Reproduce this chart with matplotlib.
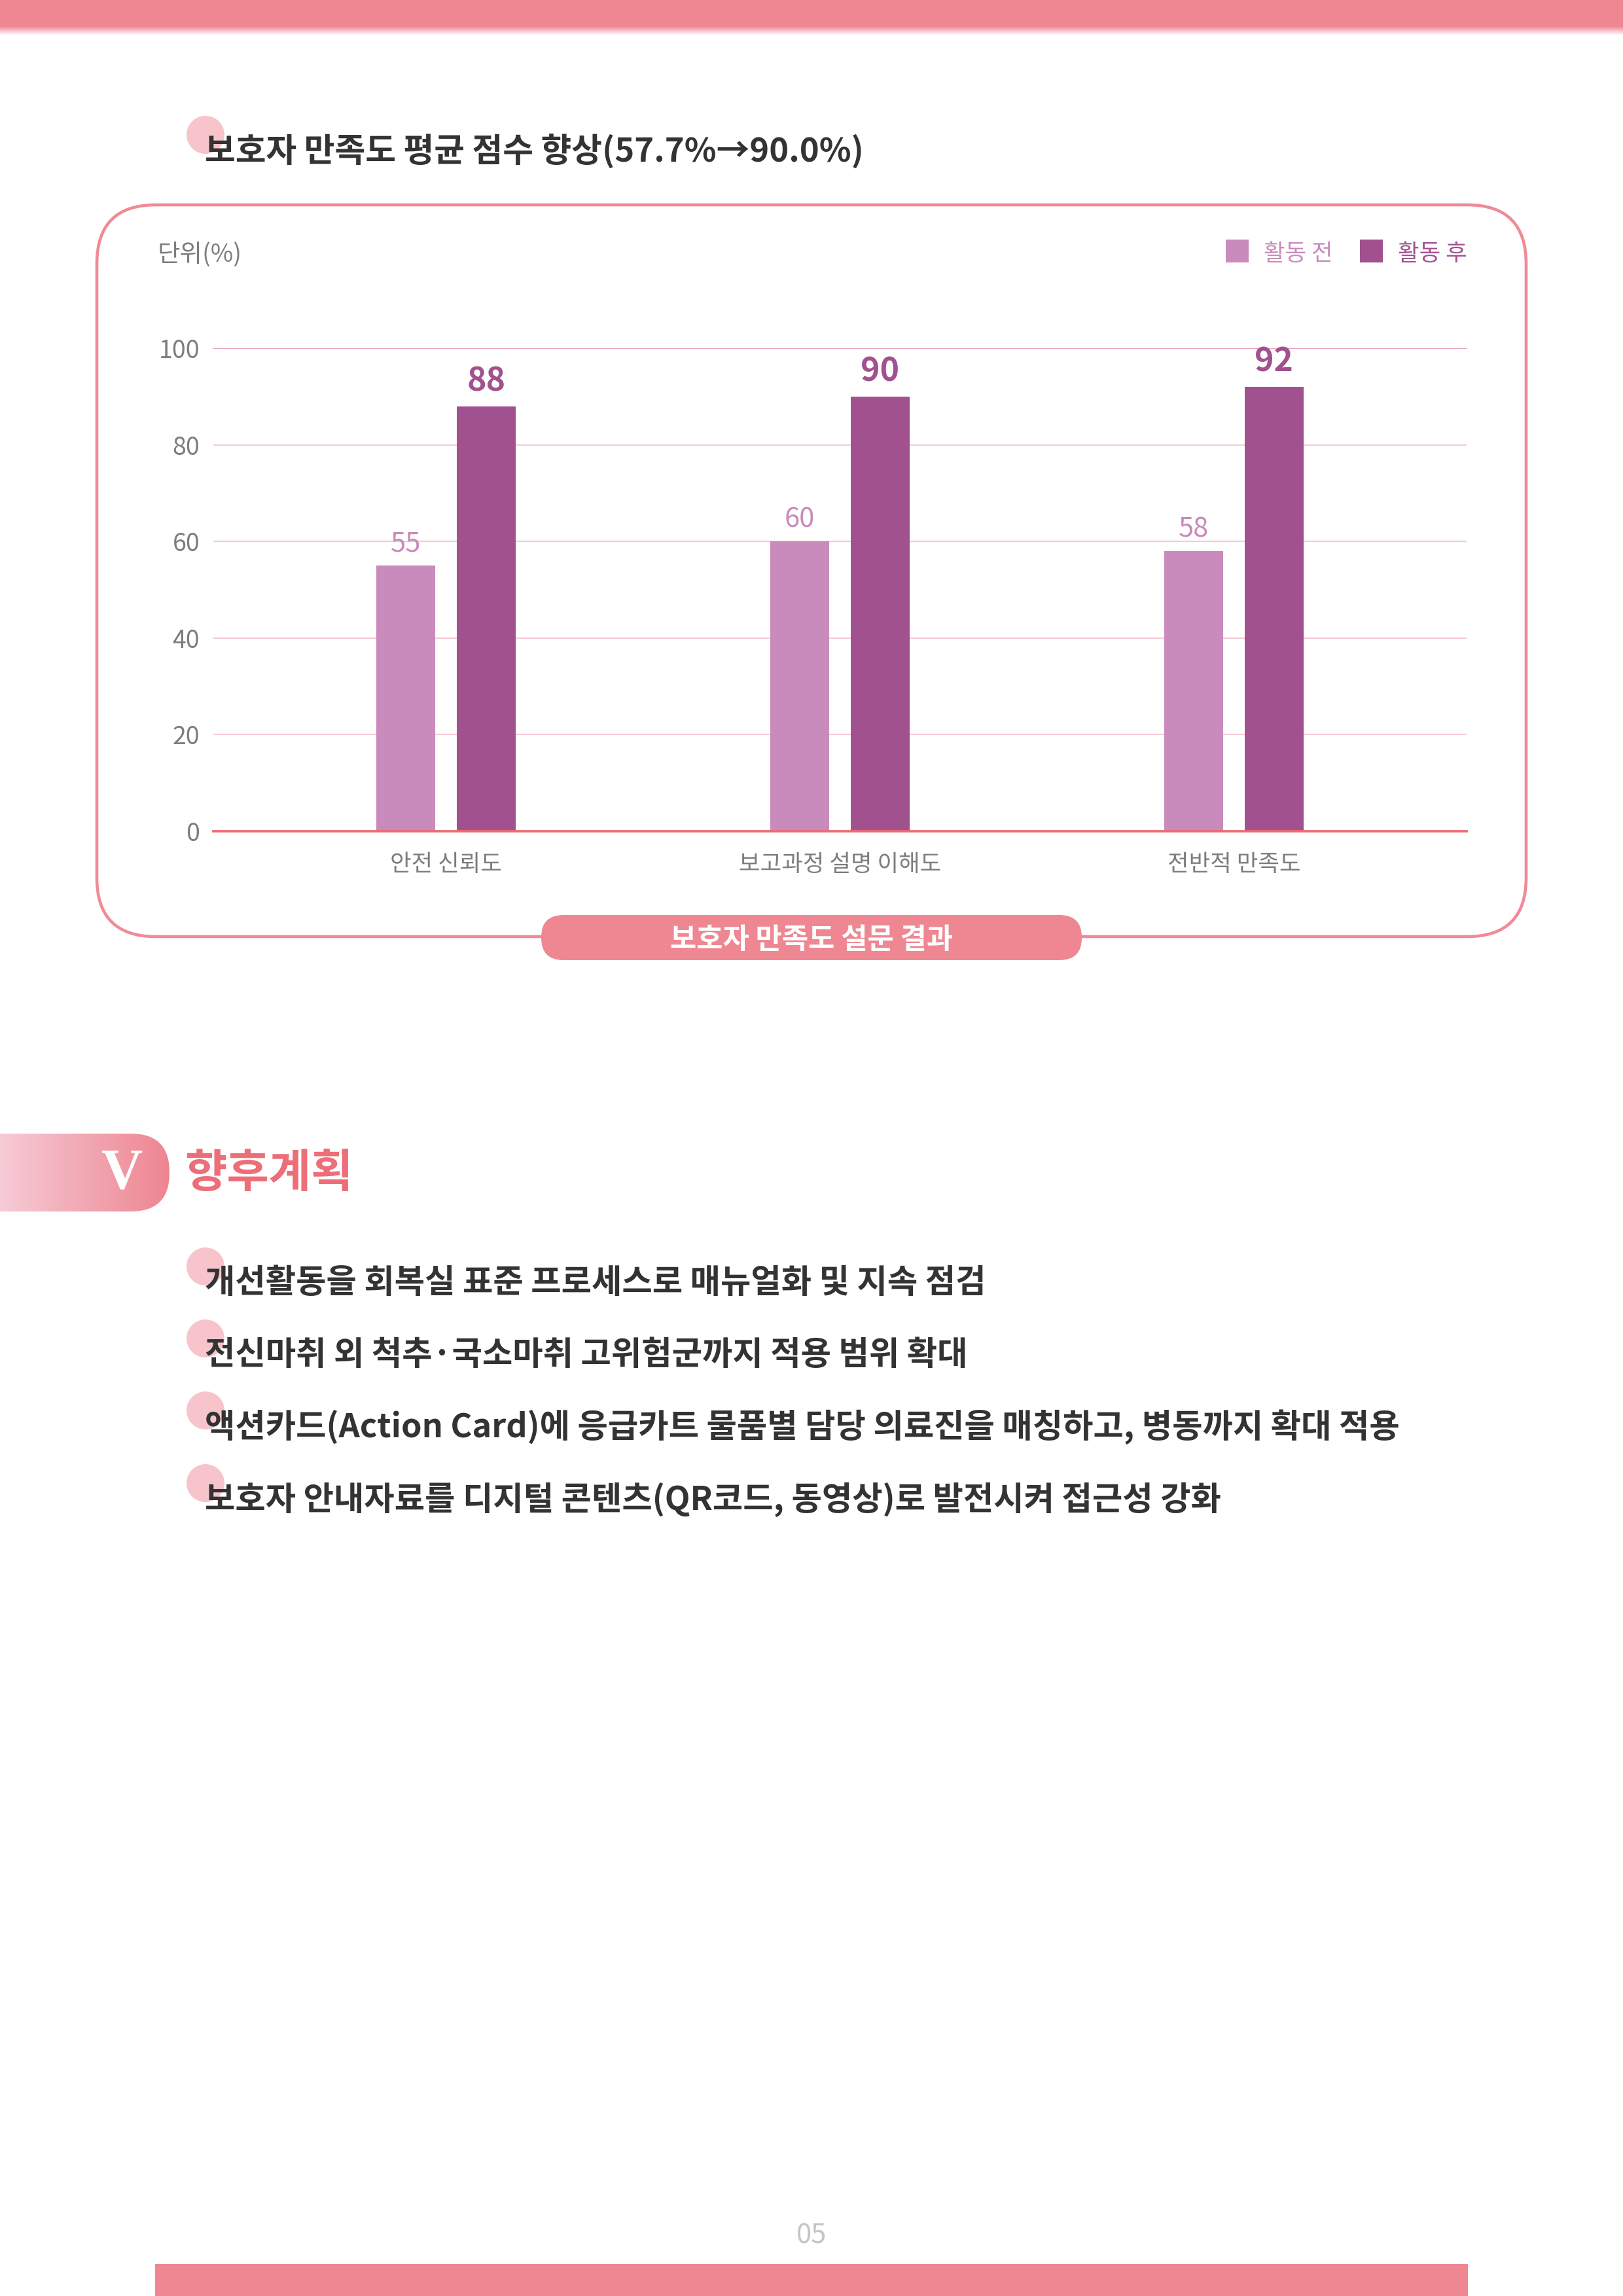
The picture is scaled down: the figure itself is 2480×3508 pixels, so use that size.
import numpy as np
import matplotlib
matplotlib.use("Agg")
import matplotlib.pyplot as plt
from matplotlib.patches import FancyBboxPatch, Rectangle, Circle
from matplotlib.colors import to_rgb

plt.rcParams['font.family'] = ['Noto Sans CJK KR', 'DejaVu Sans']

# ---- data ----
title = "보호자 만족도 평균 점수 향상(57.7%→90.0%)"
unit_label = "단위(%)"
categories = ["안전 신뢰도", "보고과정 설명 이해도", "전반적 만족도"]
before_vals = [55, 60, 58]
after_vals = [88, 90, 92]
series_names = ["활동 전", "활동 후"]
yticks = [0, 20, 40, 60, 80, 100]
chart_caption = "보호자 만족도 설문 결과"
section_num = "V"
section_title = "향후계획"
plan_items = [
    "개선활동을 회복실 표준 프로세스로 매뉴얼화 및 지속 점검",
    "전신마취 외 척추·국소마취 고위험군까지 적용 범위 확대",
    "액션카드(Action Card)에 응급카트 물품별 담당 의료진을 매칭하고, 병동까지 확대 적용",
    "보호자 안내자료를 디지털 콘텐츠(QR코드, 동영상)로 발전시켜 접근성 강화",
]
page_no = "05"

# colours
pink = "#EF8793"
light_pink = "#F7C4CB"
before_color = "#C98BBB"
after_color = "#A2518F"
text_dark = "#333333"
grey = "#7d7d7d"

W, H = 2480, 3508
fig = plt.figure(figsize=(W / 300, H / 300), dpi=300)

# background axes in pixel coordinates
bg = fig.add_axes([0, 0, 1, 1], zorder=0)
bg.set_xlim(0, W)
bg.set_ylim(H, 0)
bg.axis("off")

# top band with soft fade
bg.add_patch(Rectangle((0, 0), W, 40, color=pink, lw=0))
fade = np.zeros((20, 1, 4))
fade[..., :3] = to_rgb(pink)
fade[:, 0, 3] = np.linspace(1, 0, 20)
bg.imshow(fade, extent=(0, W, 54, 40), aspect="auto", interpolation="bilinear")

# title with bullet dot
bg.add_patch(Circle((314, 206), 29, color=light_pink, lw=0, zorder=1))
bg.text(313, 232, title, fontsize=12.2, fontweight="bold", color=text_dark,
        va="center", ha="left", zorder=2)

# chart frame
bg.add_patch(FancyBboxPatch((148, 313), 2184, 1118,
                            boxstyle="round,pad=0,rounding_size=90",
                            fc="none", ec="#F08A96", lw=1.1, zorder=1))
bg.text(241, 389, unit_label, fontsize=9, color=grey, va="center", ha="left")

# legend
leg_x = [1873, 2078]
for i, name in enumerate(series_names):
    c = [before_color, after_color][i]
    bg.add_patch(Rectangle((leg_x[i], 366), 35, 35, color=c, lw=0))
    bg.text(leg_x[i] + 58, 388, name, fontsize=8.5, color=c, va="center", ha="left")

# caption pill
bg.add_patch(FancyBboxPatch((827, 1398), 826, 69,
                            boxstyle="round,pad=0,rounding_size=34",
                            fc=pink, ec="none", zorder=3))
bg.text(1240, 1436, chart_caption, fontsize=10.5, fontweight="bold", color="white",
        va="center", ha="center", zorder=4)

# bar chart
ax = fig.add_axes([326 / W, 1 - 1270 / H, (2241 - 326) / W, (1270 - 532) / H], zorder=2)
ax.patch.set_alpha(0)
x = np.arange(len(categories))
off, bw = 0.102, 0.149
ax.bar(x - off, before_vals, width=bw, color=before_color, zorder=3)
ax.bar(x + off, after_vals, width=bw, color=after_color, zorder=3)
ax.set_xlim(-0.591, 2.591)
ax.set_ylim(0, 100)
for t in yticks[1:]:
    ax.axhline(t, color="#E8A0AE" if t == 100 else "#F7C6D0", lw=0.45, zorder=1)
for s in ["top", "right", "left"]:
    ax.spines[s].set_visible(False)
ax.spines["bottom"].set_color("#EE6B74")
ax.spines["bottom"].set_linewidth(0.9)
ax.spines["bottom"].set_zorder(4)
ax.set_yticks(yticks)
ax.set_xticks(x)
ax.set_xticklabels(categories)
ax.tick_params(axis="both", length=0, labelsize=9, colors=grey)
ax.tick_params(axis="x", labelsize=8.5, pad=8)
ax.tick_params(axis="y", pad=5)

for xi, v in zip(x, before_vals):
    ax.annotate(str(v), (xi - off, v), xytext=(0, 3), textcoords="offset points",
                ha="center", va="bottom", fontsize=10, color=before_color)
for xi, v in zip(x, after_vals):
    ax.annotate(str(v), (xi + off, v), xytext=(0, 3), textcoords="offset points",
                ha="center", va="bottom", fontsize=12, fontweight="bold", color=after_color)

# section header tab with gradient
grad = np.zeros((1, 256, 4))
c0, c1 = np.array(to_rgb("#F6CBD6")), np.array(to_rgb("#EE8591"))
t = np.linspace(0, 1, 256)
grad[0, :, :3] = c0 + (c1 - c0) * t[:, None]
grad[0, :, 3] = 1
im = bg.imshow(grad, extent=(0, 259, 1851, 1732), aspect="auto", interpolation="bilinear")
clip = FancyBboxPatch((-120, 1732), 379, 119, boxstyle="round,pad=0,rounding_size=59",
                      transform=bg.transData)
im.set_clip_path(clip)
bg.text(187, 1794, section_num, fontsize=21, color="white", family="Liberation Serif",
        fontweight="bold", va="center", ha="center")
bg.text(282, 1794, section_title, fontsize=16.8, fontweight="bold", color="#EC6E78",
        va="center", ha="left")

# plan items
item_y = [1960, 2070, 2180, 2291]
for y, s in zip(item_y, plan_items):
    bg.add_patch(Circle((314, y - 25), 29, color=light_pink, lw=0, zorder=1))
    bg.text(313, y, s, fontsize=12.1, fontweight="bold", color=text_dark,
            va="center", ha="left", zorder=2)

# footer
bg.text(1240, 3416, page_no, fontsize=10, color="#C4C4C4", va="center", ha="center")
bg.add_patch(Rectangle((237, 3459), 2006, 60, color=pink, lw=0))

bg.set_xlim(0, W)
bg.set_ylim(H, 0)
fig.savefig("out.png", dpi=300)
